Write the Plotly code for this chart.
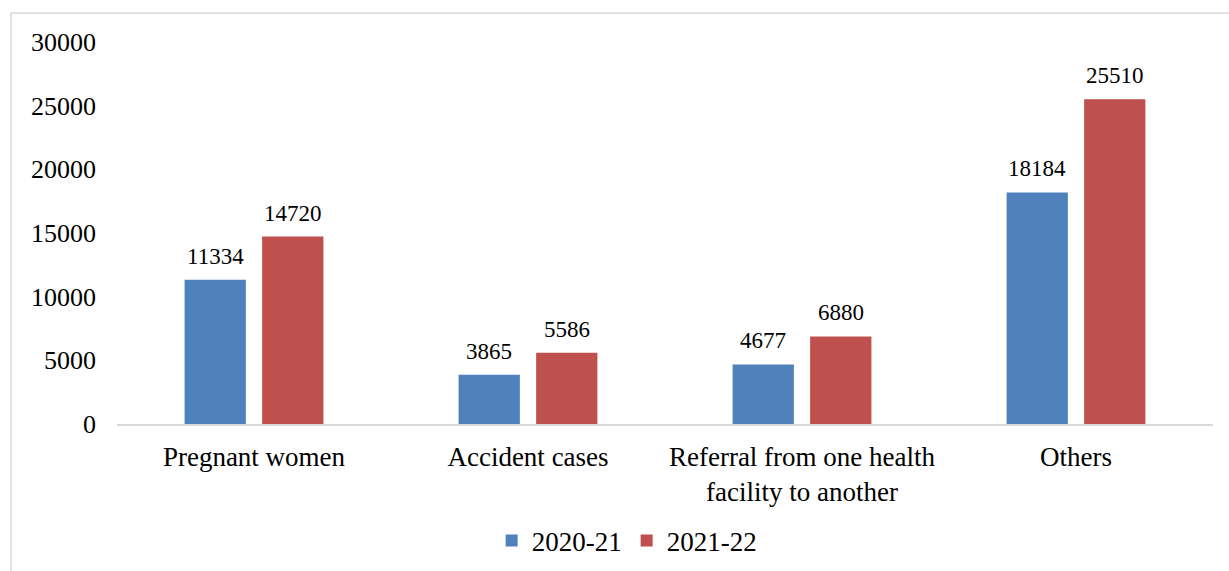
import plotly.graph_objects as go

categories = ["Pregnant women", "Accident cases",
              "Referral from one health<br>facility to another", "Others"]
series_names = ["2020-21", "2021-22"]
values_2020_21 = [11334, 3865, 4677, 18184]
values_2021_22 = [14720, 5586, 6880, 25510]
y_ticks = [0, 5000, 10000, 15000, 20000, 25000, 30000]
y_tick_labels = [str(v) for v in y_ticks]

colors = ["#4F81BD", "#C0504D"]
FONT = "Liberation Serif"

W, H = 1229, 571
ML, MR, MT, MB = 117, 16, 42, 147
BARGAP = 0.434

fig = go.Figure()
for name, vals, col in zip(series_names, [values_2020_21, values_2021_22], colors):
    fig.add_trace(go.Bar(name=name, x=categories, y=vals, marker_color=col,
                         marker_line_width=0))

# data labels above bars
plot_w = W - ML - MR
slot = plot_w / len(categories) * (1 - BARGAP) / 2
annotations = []
for i, vals in enumerate([values_2020_21, values_2021_22]):
    shift = (i - 0.5) * slot
    for c, v in zip(categories, vals):
        annotations.append(dict(x=c, y=v, xref="x", yref="y", text=str(v),
                                showarrow=False, yanchor="bottom", yshift=9,
                                xshift=shift,
                                font=dict(family=FONT, size=23, color="#000")))

fig.update_layout(
    width=W, height=H,
    margin=dict(l=ML, r=MR, t=MT, b=MB, autoexpand=False),
    paper_bgcolor="white", plot_bgcolor="white",
    barmode="group", bargap=BARGAP, bargroupgap=0.21,
    font=dict(family=FONT, size=26, color="#000"),
    annotations=annotations,
    legend=dict(orientation="h", x=0.465, xanchor="center",
                yref="container", y=1 - 541 / H,
                yanchor="middle", font=dict(family=FONT, size=27, color="#000"),
                itemwidth=30, tracegroupgap=0),
    showlegend=True,
    shapes=[dict(type="rect", xref="paper", yref="paper",
                 x0=(11 - ML) / plot_w, x1=1.2,
                 y0=-0.6, y1=(H - MB - 13) / (H - MB - MT),
                 line=dict(color="#D9D9D9", width=1.5), fillcolor="rgba(0,0,0,0)",
                 layer="below")],
)
fig.update_xaxes(showline=True, linecolor="#D9D9D9", linewidth=1.5,
                 showgrid=False, ticks="", ticklabelstandoff=8, automargin=False,
                 tickfont=dict(family=FONT, size=27, color="#000"))
fig.update_yaxes(range=[0, 30000], tickvals=y_ticks, ticktext=y_tick_labels,
                 showgrid=False, zeroline=False, showline=False, ticks="",
                 ticklabelstandoff=20, automargin=False,
                 tickfont=dict(family=FONT, size=26, color="#000"))

fig.write_html("out.html", config={"displayModeBar": False},
               post_script="document.body.style.margin='0';"
                           "document.body.style.overflow='hidden';")
